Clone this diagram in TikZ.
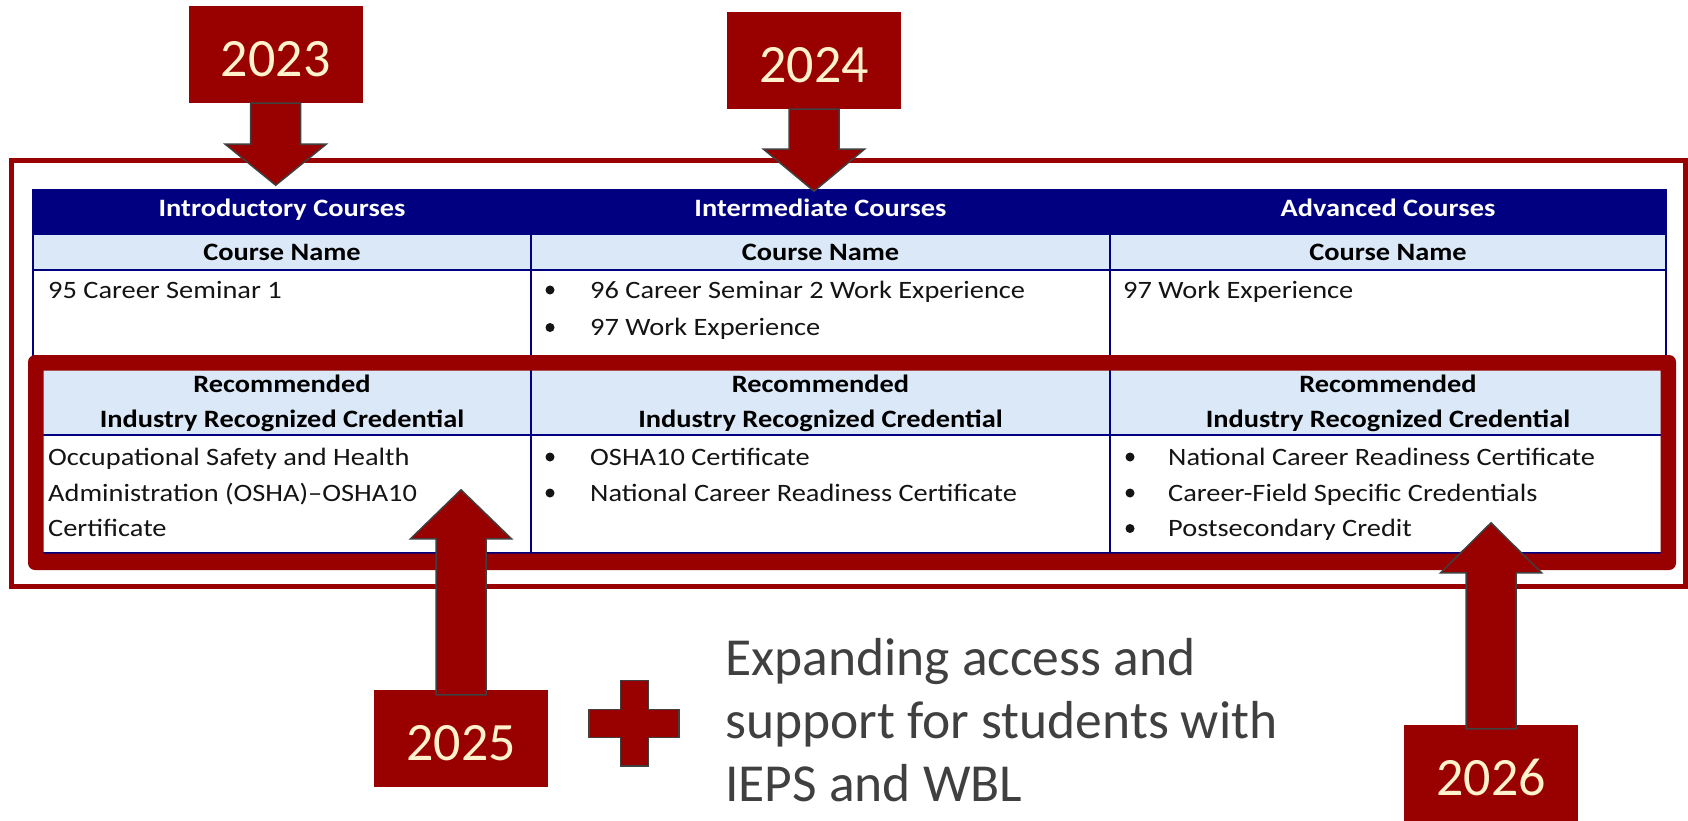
\documentclass[tikz,border=0pt]{standalone}
\usepackage{fontspec}
\setmainfont{Carlito}
\newfontfamily\tabfont[FakeStretch=1.135]{Carlito}
\definecolor{dred}{HTML}{990000}
\definecolor{navy}{HTML}{000080}
\definecolor{lblue}{HTML}{DAE8F8}
\definecolor{cream}{HTML}{FFF2CC}
\definecolor{dgray}{HTML}{404040}
\definecolor{ink}{HTML}{141414}
\begin{document}
\begin{tikzpicture}[x=1pt,y=-1pt,
 yearbox/.style={fill=dred, minimum width=174pt, minimum height=97pt, inner sep=0pt, text=cream, font=\fontsize{54}{60}\selectfont, text height=43pt, text depth=0pt},
 blkarrow/.style={fill=dred, draw=dgray, line width=1.5pt, line join=miter},
 thead/.style={text=white, font=\tabfont\bfseries\fontsize{25}{30}\selectfont, anchor=base, inner sep=0pt},
 tsub/.style={text=black, font=\tabfont\bfseries\fontsize{25}{30}\selectfont, anchor=base, inner sep=0pt},
 tcell/.style={text=ink, font=\tabfont\fontsize{25}{30}\selectfont, anchor=base west, inner sep=0pt},
 bul/.style={circle, fill=ink, inner sep=0pt, minimum size=9pt},
 tline/.style={draw=navy, line width=1.3pt},
 bigtext/.style={text=dgray, font=\fontsize{53.5}{63}\selectfont, anchor=base west, inner sep=0pt},
]
\useasboundingbox (0,0) rectangle (1688,820);
\fill[white] (0,0) rectangle (1688,820);

% ---- table ----
\fill[navy] (33,189) rectangle (1666,234);
\fill[lblue] (33,234) rectangle (1666,270);
\fill[lblue] (33,362) rectangle (1666,435);
\draw[tline] (33,189) -- (33,553) (1666,189) -- (1666,553)
  (33,234) -- (1666,234) (33,270) -- (1666,270) (33,362) -- (1666,362)
  (33,435) -- (1666,435) (33,553) -- (1666,553)
  (531,234) -- (531,553) (1110,234) -- (1110,553);

\node[thead] (h1) at (282,216.7) {Introductory Courses};
\node[thead] (h2) at (820.5,216.7) {Intermediate Courses};
\node[thead] (h3) at (1388,216.7) {Advanced Courses};
\node[tsub] (c1) at (282,260) {Course Name};
\node[tsub] (c2) at (820.5,260) {Course Name};
\node[tsub] (c3) at (1388,260) {Course Name};

\node[tcell] (d1) at (48,298) {95 Career Seminar 1};
\node[bul] (b21) at (550,290) {};
\node[tcell] (d21) at (590,298) {96 Career Seminar 2 Work Experience};
\node[bul] (b22) at (550,327.5) {};
\node[tcell] (d22) at (590,335.5) {97 Work Experience};
\node[tcell] (d3) at (1123,298) {97 Work Experience};

\node[tsub] (r1a) at (282,392) {Recommended};
\node[tsub] (r1b) at (282,427) {Industry Recognized Credential};
\node[tsub] (r2a) at (820.5,392) {Recommended};
\node[tsub] (r2b) at (820.5,427) {Industry Recognized Credential};
\node[tsub] (r3a) at (1388,392) {Recommended};
\node[tsub] (r3b) at (1388,427) {Industry Recognized Credential};

\node[tcell] (e11) at (48,465) {Occupational Safety and Health};
\node[tcell] (e12) at (48,501) {Administration (OSHA)–OSHA10};
\node[tcell] (e13) at (48,536.5) {Certificate};
\node[bul] (b31) at (550,457) {};
\node[tcell] (e21) at (590,465) {OSHA10 Certificate};
\node[bul] (b32) at (550,493) {};
\node[tcell] (e22) at (590,501) {National Career Readiness Certificate};
\node[bul] (b41) at (1130,457) {};
\node[tcell] (e31) at (1168,465) {National Career Readiness Certificate};
\node[bul] (b42) at (1130,493) {};
\node[tcell] (e32) at (1168,501) {Career-Field Specific Credentials};
\node[bul] (b43) at (1130,528.5) {};
\node[tcell] (e33) at (1168,536.5) {Postsecondary Credit};

% ---- frames ----
\fill[dred, even odd rule] [rounded corners=7pt] (28,355) rectangle (1676,570)
  [sharp corners] (43.5,370.5) rectangle (1660.5,553.5);
\draw[dred, line width=5pt] (11.5,160) rectangle (1685.5,586);

% ---- year boxes ----
\node[yearbox] (y2023) at (275.7,54.5) {2023};
\node[yearbox] (y2024) at (814,60.5) {2024};
\node[yearbox] (y2025) at (461,738.5) {2025};
\node[yearbox] (y2026) at (1491,773.5) {2026};

% ---- block arrows ----
\draw[blkarrow, shift={(y2023.south)}] (-25,0) -- (25,0) -- (25,41) -- (50.5,41) -- (0,82) -- (-50.5,41) -- (-25,41) -- cycle;
\draw[blkarrow, shift={(y2024.south)}] (-25,0) -- (25,0) -- (25,40) -- (50.5,40) -- (0,82) -- (-50.5,40) -- (-25,40) -- cycle;
\draw[blkarrow, shift={(y2025.north)}] (-25,5) -- (25,5) -- (25,-151) -- (50.5,-151) -- (0,-200) -- (-50.5,-151) -- (-25,-151) -- cycle;
\draw[blkarrow, shift={(y2026.north)}] (-25,4) -- (25,4) -- (25,-152) -- (50.5,-152) -- (0,-202) -- (-50.5,-152) -- (-25,-152) -- cycle;

% ---- plus sign ----
\draw[blkarrow] (620.7,680.7) -- (648.7,680.7) -- (648.7,709.7) -- (679,709.7) -- (679,737.7)
  -- (648.7,737.7) -- (648.7,766) -- (620.7,766) -- (620.7,737.7) -- (589,737.7)
  -- (589,709.7) -- (620.7,709.7) -- cycle;

% ---- text ----
\node[bigtext] (t1) at (725,675) {Expanding access and};
\node[bigtext] (t2) at (725,738) {support for students with};
\node[bigtext] (t3) at (725,801) {IEPS and WBL};
\end{tikzpicture}
\end{document}
